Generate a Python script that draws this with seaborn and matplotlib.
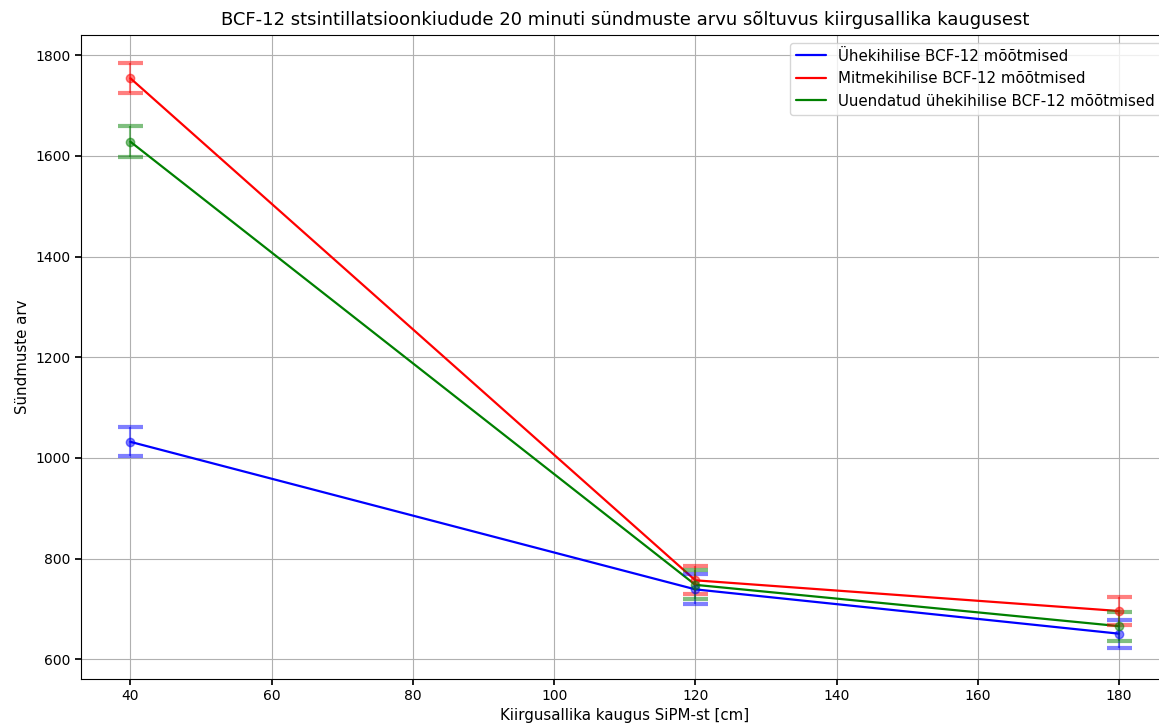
import matplotlib
matplotlib.use("Agg")
import matplotlib.pyplot as plt
import seaborn as sns
import pandas as pd

distances = [40, 120, 180]
single_vals = [1032, 739, 651]
single_err = [29, 30, 28]
multi_vals = [1754, 757, 696]
multi_err = [30, 28, 28]
updated_vals = [1628, 748, 666]
updated_err = [31, 29, 29]

labels = ["Ühekihilise BCF-12 mõõtmised",
          "Mitmekihilise BCF-12 mõõtmised",
          "Uuendatud ühekihilise BCF-12 mõõtmised"]
colors = ["blue", "red", "green"]

sns.set_theme(style="white")
plt.rcParams['font.family'] = ['DejaVu Sans']
plt.rcParams.update({"text.color": "black", "axes.labelcolor": "black",
                     "xtick.color": "black", "ytick.color": "black"})

fig = plt.figure(figsize=(11.59, 7.23), dpi=100)
ax = fig.add_axes([81/1159, 44/723, (1168.5-81)/1159, (679-35)/723])

rows = []
for lab, vals in zip(labels, [single_vals, multi_vals, updated_vals]):
    for d, v in zip(distances, vals):
        rows.append({"d": d, "v": v, "s": lab})
df = pd.DataFrame(rows)

sns.lineplot(data=df, x="d", y="v", hue="s", palette=dict(zip(labels, colors)),
             ax=ax, linewidth=1.6, legend=True)

for vals, errs, c in zip([single_vals, multi_vals, updated_vals],
                         [single_err, multi_err, updated_err], colors):
    ax.errorbar(distances, vals, yerr=errs, fmt='o', color=c, alpha=0.5,
                capsize=9, capthick=3, elinewidth=1.5, markersize=6)

ax.set_xlim(33, 187)
ax.set_ylim(561, 1840)
ax.set_yticks([600, 800, 1000, 1200, 1400, 1600, 1800])
ax.set_xticks([40, 60, 80, 100, 120, 140, 160, 180])
ax.grid(True, color="#b0b0b0", linewidth=0.8)
for s in ax.spines.values():
    s.set_color("black")
    s.set_linewidth(0.8)
ax.tick_params(axis="both", labelsize=10, length=4, color="black", left=True, bottom=True)

ax.set_title("BCF-12 stsintillatsioonkiudude 20 minuti sündmuste arvu sõltuvus kiirgusallika kaugusest",
             fontsize=13, pad=7)
ax.set_xlabel("Kiirgusallika kaugus SiPM-st [cm]", fontsize=10.8, labelpad=3)
ax.set_ylabel("Sündmuste arv", fontsize=10.8)

leg = ax.legend(loc="upper right", fontsize=10.8, frameon=True, framealpha=0.8)
leg.get_frame().set_edgecolor("#cccccc")

fig.savefig("out.png", dpi=100)
